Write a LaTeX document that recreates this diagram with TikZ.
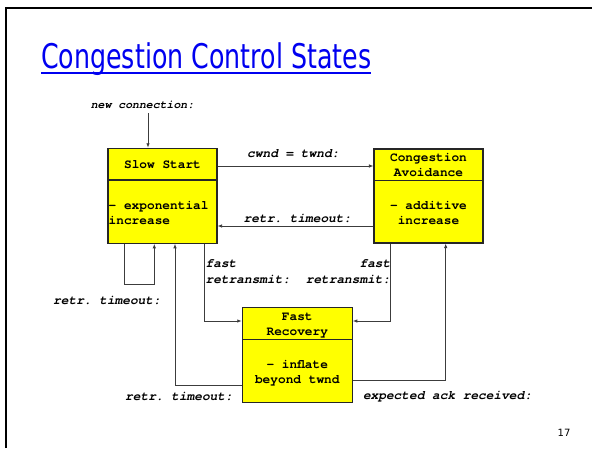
\documentclass[tikz,border=0pt]{standalone}
\usepackage{fontspec}
\usepackage{graphicx}
\usetikzlibrary{arrows.meta}
\setmainfont{DejaVu Sans}
\newfontfamily\cour{texgyrecursor}[Extension=.otf, UprightFont=*-regular, BoldFont=*-bold, ItalicFont=*-italic, BoldItalicFont=*-bolditalic]
\frenchspacing
\definecolor{titleblue}{RGB}{0,0,240}
\definecolor{stateyellow}{RGB}{255,255,0}
\definecolor{linegray}{RGB}{60,60,60}
\tikzset{
  statebox/.style={draw=black!85, line width=1.1pt, fill=stateyellow, inner sep=0pt},
  divider/.style={draw=black!85, line width=1.1pt},
  boxtext/.style={font=\cour\bfseries\fontsize{12.8}{15}\selectfont, inner sep=0pt, align=center},
  lbl/.style={font=\cour\bfseries\itshape\fontsize{12.8}{16}\selectfont, inner sep=0pt},
  conn/.style={draw=linegray, line width=0.8pt},
  arr/.style={conn, -{Latex[length=4.5pt,width=3.5pt]}}
}
\begin{document}
\begin{tikzpicture}[x=1pt,y=-1pt]
\useasboundingbox (0,0) rectangle (592,448);
\fill[white] (0,0) rectangle (592,448);
% slide frame
\draw[black, line width=2.7pt] (6,448) -- (6,8) -- (592,8);
% title
\node[anchor=base west, inner sep=0pt, text=titleblue] (title) at (41,68)
  {\resizebox{330pt}{\height}{\fontsize{34}{40}\selectfont Congestion Control States}};
\draw[titleblue, line width=1.8pt] (41,73) -- (371,73);
% states
\node[statebox, minimum width=109pt, minimum height=95pt] (ss) at (162.5,195.8) {};
\draw[divider] (108,180) -- (217,180);
\node[boxtext] (sst) at (162.5,165) {Slow Start};
\node[boxtext, align=left, anchor=west] (ssb) at (108.5,213.5) {- exponential\\increase};

\node[statebox, minimum width=109pt, minimum height=94pt] (ca) at (428.5,196) {};
\draw[divider] (374,180.7) -- (483,180.7);
\node[boxtext] (cat) at (428.5,165.5) {Congestion\\Avoidance};
\node[boxtext] (cab) at (428.5,213) {- additive\\increase};

\node[statebox, minimum width=110pt, minimum height=95pt] (fr) at (297.3,355.2) {};
\draw[divider] (242.3,339.3) -- (352.3,339.3);
\node[boxtext] (frt) at (297.3,325.5) {Fast\\Recovery};
\node[boxtext] (frb) at (297.3,372.8) {- inflate\\beyond twnd};

% new connection
\node[lbl, font=\cour\bfseries\itshape\fontsize{11.5}{14}\selectfont] (nc) at (142.5,105) {new connection:};
\coordinate (ncs) at (148,113);
\draw[arr] (ncs) -- (ss.north -| ncs);

% cwnd = twnd
\draw[arr] (ss.east |- 0,166) -- (ca.west |- 0,166);
\node[lbl] (l1) at (293.3,154) {cwnd = twnd:};

% retr timeout CA -> SS
\draw[arr] (ca.west |- 0,226) -- (ss.east |- 0,226);
\node[lbl] (l2) at (297.5,218) {retr. timeout:};

% self loop
\draw[arr] (ss.south -| 124.3,0) -- (124.3,284.3) -- (154.3,284.3) -- (ss.south -| 154.3,0);
\node[lbl] (l3) at (107,300.7) {retr. timeout:};

% FR -> SS
\draw[arr] (fr.west |- 0,385) -- (175,385) -- (ss.south -| 175,0);
\node[lbl] (l4) at (179,396.7) {retr. timeout:};

% SS -> FR
\draw[arr] (ss.south -| 204.3,0) -- (204.3,321) -- (fr.west |- 0,321);
\node[lbl, align=left, anchor=west] (l5) at (205.5,272) {fast\\retransmit:};

% CA -> FR
\draw[arr] (ca.south -| 390.7,0) -- (390.7,321) -- (fr.east |- 0,321);
\node[lbl, align=right, anchor=east] (l6) at (390.5,272) {fast\\retransmit:};

% FR -> CA
\draw[arr] (fr.east |- 0,380) -- (445.7,380) -- (ca.south -| 445.7,0);
\node[lbl] (l7) at (447.5,396.7) {expected ack received:};

% page number
\node[font=\fontsize{10}{12}\selectfont, inner sep=0pt] (pg) at (564,433) {17};
\end{tikzpicture}
\end{document}
